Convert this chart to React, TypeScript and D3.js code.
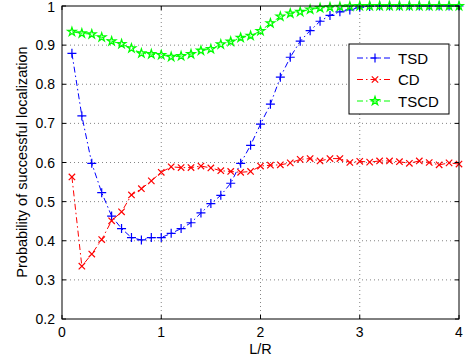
import * as d3 from "d3"

// x positions of the samples (L/R)
const lr = [
  0.1, 0.2, 0.3, 0.4, 0.5, 0.6, 0.7, 0.8, 0.9, 1.0,
  1.1, 1.2, 1.3, 1.4, 1.5, 1.6, 1.7, 1.8, 1.9, 2.0,
  2.1, 2.2, 2.3, 2.4, 2.5, 2.6, 2.7, 2.8, 2.9, 3.0,
  3.1, 3.2, 3.3, 3.4, 3.5, 3.6, 3.7, 3.8, 3.9, 4.0,
]

const tsd = [
  0.879, 0.719, 0.598, 0.523, 0.463, 0.431, 0.408, 0.402, 0.408, 0.408,
  0.419, 0.431, 0.446, 0.471, 0.495, 0.516, 0.547, 0.598, 0.644, 0.698,
  0.749, 0.818, 0.869, 0.91, 0.937, 0.961, 0.976, 0.985, 0.99, 0.997,
  0.999, 1, 1, 1, 1, 1, 1, 1, 1, 1,
]

const cd = [
  0.563, 0.335, 0.366, 0.403, 0.451, 0.474, 0.517, 0.533, 0.553, 0.575,
  0.589, 0.587, 0.587, 0.591, 0.586, 0.579, 0.577, 0.575, 0.577, 0.591,
  0.593, 0.594, 0.599, 0.608, 0.61, 0.604, 0.61, 0.61, 0.6, 0.603,
  0.601, 0.604, 0.604, 0.602, 0.598, 0.604, 0.6, 0.594, 0.599, 0.596,
]

const tscd = [
  0.934, 0.93, 0.928, 0.92, 0.91, 0.903, 0.892, 0.879, 0.877, 0.875,
  0.87, 0.872, 0.877, 0.886, 0.89, 0.902, 0.909, 0.919, 0.924, 0.936,
  0.956, 0.973, 0.981, 0.985, 0.991, 0.995, 0.997, 0.998, 0.999, 1,
  1, 1, 1, 1, 1, 1, 1, 1, 1, 1,
]

const xTicks = [0, 1, 2, 3, 4]
const yTicks = [0.2, 0.3, 0.4, 0.5, 0.6, 0.7, 0.8, 0.9, 1]

const seriesNames = ["TSD", "CD", "TSCD"]
const seriesColors = ["#0000ff", "#ff0000", "#00ff00"]

const W = 467
const H = 363
const m = { left: 62, right: 8, top: 6, bottom: 44 }

const x = d3.scaleLinear().domain([0, 4]).range([m.left, W - m.right])
const y = d3.scaleLinear().domain([0.2, 1]).range([H - m.bottom, m.top])

const font = "'Liberation Sans', Arial, Helvetica, sans-serif"
const dashDot = "6,3,1.5,3"

function Marker({ kind, cx, cy, color }: { kind: string; cx: number; cy: number; color: string }) {
  if (kind === "TSD") {
    const s = 4.5
    return (
      <path d={`M${cx - s},${cy}H${cx + s}M${cx},${cy - s}V${cy + s}`} stroke={color} strokeWidth={1.2} fill="none" />
    )
  }
  if (kind === "CD") {
    const s = 3.2
    return (
      <path
        d={`M${cx - s},${cy - s}L${cx + s},${cy + s}M${cx - s},${cy + s}L${cx + s},${cy - s}`}
        stroke={color}
        strokeWidth={1.2}
        fill="none"
      />
    )
  }
  const star = d3.symbol(d3.symbolStar, 22)()
  return <path d={star || ""} transform={`translate(${cx},${cy})`} stroke={color} strokeWidth={1.3} fill="none" />
}

export default function App() {
  const all = [tsd, cd, tscd]
  const line = d3
    .line<number>()
    .x((_, i) => x(lr[i]))
    .y((d) => y(d))

  const x0 = x(0)
  const x1 = x(4)
  const y0 = y(0.2)
  const y1 = y(1)

  const lgX = 349
  const lgY = 44
  const lgW = 100
  const lgH = 70

  return (
    <svg width={W} height={H} style={{ position: "absolute", left: 0, top: 0, background: "#fff" }} fontFamily={font}>
      <rect x={0} y={0} width={W} height={H} fill="#fff" />
      {/* grid */}
      {xTicks.slice(1, -1).map((t) => (
        <line key={"gx" + t} x1={x(t)} x2={x(t)} y1={y0} y2={y1} stroke="#333" strokeWidth={0.6} strokeDasharray="1,3" />
      ))}
      {yTicks.slice(1, -1).map((t) => (
        <line key={"gy" + t} x1={x0} x2={x1} y1={y(t)} y2={y(t)} stroke="#333" strokeWidth={0.6} strokeDasharray="1,3" />
      ))}

      {/* series */}
      {all.map((vals, si) => (
        <g key={seriesNames[si]}>
          <path d={line(vals) || ""} fill="none" stroke={seriesColors[si]} strokeWidth={1} strokeDasharray={dashDot} />
          {vals.map((v, i) => (
            <Marker key={i} kind={seriesNames[si]} cx={x(lr[i])} cy={y(v)} color={seriesColors[si]} />
          ))}
        </g>
      ))}

      {/* axes box and ticks */}
      <rect x={x0} y={y1} width={x1 - x0} height={y0 - y1} fill="none" stroke="#000" strokeWidth={1} />
      {xTicks.map((t) => (
        <g key={"tx" + t}>
          <line x1={x(t)} x2={x(t)} y1={y0} y2={y0 - 4} stroke="#000" />
          <line x1={x(t)} x2={x(t)} y1={y1} y2={y1 + 4} stroke="#000" />
          <text x={x(t)} y={y0 + 18} textAnchor="middle" fontSize={14}>
            {t}
          </text>
        </g>
      ))}
      {yTicks.map((t) => (
        <g key={"ty" + t}>
          <line x1={x0} x2={x0 + 4} y1={y(t)} y2={y(t)} stroke="#000" />
          <line x1={x1} x2={x1 - 4} y1={y(t)} y2={y(t)} stroke="#000" />
          <text x={x0 - 7} y={t === 1 ? y(t) + 6 : y(t) + 5} textAnchor="end" fontSize={14}>
            {t}
          </text>
        </g>
      ))}

      <text x={(x0 + x1) / 2} y={y0 + 35} textAnchor="middle" fontSize={14.5}>
        L/R
      </text>
      <text transform={`translate(27,162) rotate(-90)`} textAnchor="middle" fontSize={14.5}>
        Probability of successful localization
      </text>

      {/* legend */}
      <rect x={lgX} y={lgY} width={lgW} height={lgH} fill="#fff" stroke="#000" strokeWidth={1} />
      {seriesNames.map((n, i) => {
        const ly = lgY + 14 + i * 21.5
        return (
          <g key={"lg" + n}>
            <line x1={lgX + 8} x2={lgX + 44} y1={ly} y2={ly} stroke={seriesColors[i]} strokeDasharray={dashDot} />
            <Marker kind={n} cx={lgX + 26} cy={ly} color={seriesColors[i]} />
            <text x={lgX + 49} y={ly + 5.5} fontSize={15}>
              {n}
            </text>
          </g>
        )
      })}
    </svg>
  )
}
